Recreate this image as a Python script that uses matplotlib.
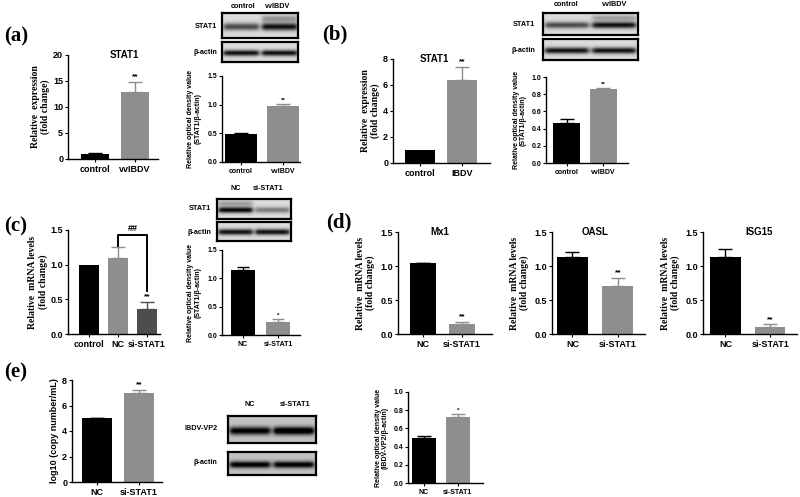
import matplotlib
matplotlib.use("Agg")
import matplotlib.pyplot as plt
import numpy as np

W, H = 800, 497
SANS = "Liberation Sans"
SERIF = "Liberation Serif"
GRAY = "#8e8e8e"
DARK = "#4d4d4d"

# ---- data ----
a_cats = ["control", "vvIBDV"]
a_expr = [1.0, 12.8]
a_expr_err = [0.1, 2.1]
a_dens = [0.48, 0.98]
a_dens_err = [0.03, 0.03]

b_cats = ["control", "IBDV"]
b_expr = [1.0, 6.4]
b_expr_err = [0.0, 1.0]
b_blot_cats = ["control", "vvIBDV"]
b_dens = [0.47, 0.86]
b_dens_err = [0.04, 0.01]

c_cats = ["control", "NC", "si-STAT1"]
c_mrna = [1.0, 1.1, 0.36]
c_mrna_err = [0.0, 0.15, 0.10]
c_blot_cats = ["NC", "si-STAT1"]
c_dens = [1.15, 0.23]
c_dens_err = [0.05, 0.05]

d_genes = ["Mx1", "OASL", "ISG15"]
d_cats = ["NC", "si-STAT1"]
d_nc = [1.04, 1.13, 1.13]
d_nc_err = [0.01, 0.08, 0.12]
d_si = [0.14, 0.71, 0.10]
d_si_err = [0.04, 0.11, 0.04]

e_cats = ["NC", "si-STAT1"]
e_copies = [5.0, 7.0]
e_copies_err = [0.05, 0.25]
e_dens = [0.50, 0.72]
e_dens_err = [0.02, 0.04]

# band strength per lane (main band, faint upper band)
blot_a_stat1 = ([0.60, 0.85], [0.0, 0.30])
blot_b_stat1 = ([0.60, 0.85], [0.0, 0.25])
blot_c_stat1 = ([0.90, 0.40], [0.25, 0.0])
blot_e_vp2 = ([0.85, 0.95], [0.0, 0.0])
blot_actin = ([0.85, 0.85], [0.0, 0.0])


def px_axes(fig, l, t, r, b):
    return fig.add_axes([l / W, 1 - b / H, (r - l) / W, (b - t) / H])


def ftext(fig, x, y, s, **kw):
    fig.text(x / W, 1 - y / H, s, **kw)


def bar_chart(fig, box, cats, vals, errs, colors, ylim, yticks, ylabels, xlim,
              ylabel, serif=True, title=None, title_x=0.55, stars=None, fs=6.5,
              lfs=7, width=0.72, labelpad=2):
    ax = px_axes(fig, *box)
    x = np.arange(len(vals))
    ax.bar(x, vals, width=width, color=colors, edgecolor="none", zorder=2)
    for xi, v, e, c in zip(x, vals, errs, colors):
        if e > 0:
            ax.errorbar(xi, v, yerr=[[0], [e]], color=c, capsize=width * 7,
                        elinewidth=1.0, capthick=1.0, clip_on=False, zorder=1)
    ax.set_xlim(*xlim)
    ax.set_ylim(*ylim)
    ax.set_yticks(yticks)
    ax.set_yticklabels(ylabels, fontsize=fs, fontfamily=SANS, fontweight="bold")
    ax.set_xticks(x)
    ax.set_xticklabels(cats, fontsize=fs, fontfamily=SANS, fontweight="bold")
    ax.tick_params(axis="y", length=2.5, width=0.8, pad=1)
    ax.tick_params(axis="x", length=2, width=0.8, pad=2)
    for side in ("top", "right"):
        ax.spines[side].set_visible(False)
    for side in ("left", "bottom"):
        ax.spines[side].set_linewidth(1.0)
    ax.patch.set_alpha(0)
    family = SERIF if serif else SANS
    ax.set_ylabel(ylabel, fontsize=lfs, fontfamily=family, fontweight="bold",
                  labelpad=labelpad, linespacing=1.1)
    if title:
        ax.text(title_x, 1.0, title, transform=ax.transAxes, ha="center",
                va="center", fontsize=7, fontfamily=SANS, fontweight="bold")
    if stars:
        span = ylim[1] - ylim[0]
        for xi, v, e, s in zip(x, vals, errs, stars):
            if s:
                ax.text(xi, v + e + 0.015 * span, s, ha="center", va="bottom",
                        fontsize=fs - 0.5, fontfamily=SANS, fontweight="bold")
    return ax


def blot(fig, box, bands, bg=0.86, thick=0.15):
    main, upper = bands
    ax = px_axes(fig, *box)
    h, w = 60, 240
    y = np.linspace(0, 1, h)[:, None]
    x = np.linspace(0, 1, w)[None, :]
    n = len(main)
    dark = np.zeros((h, w))
    for i, (s, u) in enumerate(zip(main, upper)):
        cx = (i + 0.5) / n
        hw = 0.5 / n * 0.92
        prof = 1 / (1 + np.exp((np.abs(x - cx) - hw) / 0.015))
        dark += s * np.exp(-((y - 0.55) / thick) ** 2) * prof
        dark += u * np.exp(-((y - 0.22) / (thick * 0.9)) ** 2) * prof
    img = np.clip(bg - dark * 0.95, 0, 1)
    ax.imshow(img, cmap="gray", vmin=0, vmax=1, extent=(0, 1, 1, 0),
              aspect="auto", interpolation="bilinear")
    ax.set_xticks([])
    ax.set_yticks([])
    for sp in ax.spines.values():
        sp.set_linewidth(1.6)
    return ax


fig = plt.figure(figsize=(W / 100, H / 100), dpi=100)
lab = dict(fontsize=15, fontfamily=SERIF, fontweight="bold", va="center", ha="left")
small = dict(fontsize=5.2, fontfamily=SANS, fontweight="bold", va="center")

# ---- (a) ----
ftext(fig, 4, 36, "(a)", **lab)
bar_chart(fig, (68, 55, 158, 159), a_cats, a_expr, a_expr_err, ["black", GRAY],
          (0, 20), [0, 5, 10, 15, 20], ["0", "5", "10", "15", "20"], (-0.68, 1.58),
          "Relative  expression\n(fold change)", title="STAT1", title_x=0.63,
          stars=["", "**"])
blot(fig, (222, 13, 298, 38), blot_a_stat1)
blot(fig, (222, 42, 298, 62), blot_actin)
ftext(fig, 243, 6, "control", ha="center", **small)
ftext(fig, 278, 6, "vvIBDV", ha="center", **small)
ftext(fig, 217, 27, "STAT1", ha="right", **small)
ftext(fig, 217, 52, "β-actin", ha="right", **small)
bar_chart(fig, (222, 76, 300, 162), a_cats, a_dens, a_dens_err, ["black", GRAY],
          (0, 1.5), [0, 0.5, 1.0, 1.5], ["0.0", "0.5", "1.0", "1.5"], (-0.45, 1.4),
          "Relative optical density value\n(STAT1/β-actin)", serif=False,
          stars=["", "**"], fs=5, lfs=5, width=0.76, labelpad=4)

# ---- (b) ----
ftext(fig, 322, 34, "(b)", **lab)
bar_chart(fig, (393, 59, 490, 163), b_cats, b_expr, b_expr_err, ["black", GRAY],
          (0, 8), [0, 2, 4, 6, 8], ["0", "2", "4", "6", "8"], (-0.64, 1.67),
          "Relative  expression\n(fold change)", title="STAT1", title_x=0.43,
          stars=["", "**"])
blot(fig, (543, 13, 638, 35), blot_b_stat1)
blot(fig, (543, 39, 638, 60), blot_actin)
ftext(fig, 566, 5, "control", ha="center", **small)
ftext(fig, 615, 5, "vvIBDV", ha="center", **small)
ftext(fig, 535, 24, "STAT1", ha="right", **small)
ftext(fig, 535, 50, "β-actin", ha="right", **small)
bar_chart(fig, (546, 77, 628, 163), b_blot_cats, b_dens, b_dens_err, ["black", GRAY],
          (0, 1.0), [0, 0.2, 0.4, 0.6, 0.8, 1.0],
          ["0.0", "0.2", "0.4", "0.6", "0.8", "1.0"], (-0.58, 1.69),
          "Relative optical density value\n(STAT1/β-actin)", serif=False,
          stars=["", "**"], fs=5, lfs=5, width=0.75, labelpad=3)

# ---- (c) ----
ftext(fig, 4, 226, "(c)", **lab)
axc = bar_chart(fig, (68, 230, 160, 334), c_cats, c_mrna, c_mrna_err,
                ["black", GRAY, DARK], (0, 1.5), [0, 0.5, 1.0, 1.5],
                ["0.0", "0.5", "1.0", "1.5"], (-0.72, 2.45),
                "Relative  mRNA levels\n(fold change)", stars=["", "", "**"],
                width=0.69)
top = max(v + e for v, e in zip(c_mrna, c_mrna_err)) + 0.18
axc.plot([1, 1, 2, 2], [c_mrna[1] + c_mrna_err[1] + 0.02, top, top,
                        c_mrna[2] + c_mrna_err[2] + 0.16],
         color="black", lw=1.4, clip_on=False)
axc.text(1.5, top + 0.03, "##", ha="center", va="bottom", fontsize=6.5,
         fontfamily=SANS, fontweight="bold")
blot(fig, (217, 199, 291, 219), blot_c_stat1)
blot(fig, (217, 222, 291, 241), blot_actin)
ftext(fig, 236, 189, "NC", ha="center", **small)
ftext(fig, 268, 189, "si-STAT1", ha="center", **small)
ftext(fig, 211, 209, "STAT1", ha="right", **small)
ftext(fig, 211, 232, "β-actin", ha="right", **small)
bar_chart(fig, (222, 250, 300, 335), c_blot_cats, c_dens, c_dens_err, ["black", GRAY],
          (0, 1.5), [0, 0.5, 1.0, 1.5], ["0.0", "0.5", "1.0", "1.5"], (-0.6, 1.63),
          "Relative optical density value\n(STAT1/β-actin)", serif=False,
          stars=["", "*"], fs=5, lfs=5, width=0.66, labelpad=4)

# ---- (d) ----
ftext(fig, 326, 222, "(d)", **lab)
d_boxes = [(398, 232, 492, 334), (552, 232, 645, 334), (703, 232, 797, 334)]
d_xlims = [(-0.64, 1.77), (-0.45, 1.6), (-0.5, 1.6)]
d_title_x = [0.45, 0.46, 0.6]
for gene, box, xl, tx, nc, nce, si, sie in zip(d_genes, d_boxes, d_xlims, d_title_x,
                                               d_nc, d_nc_err, d_si, d_si_err):
    bar_chart(fig, box, d_cats, [nc, si], [nce, sie], ["black", GRAY],
              (0, 1.5), [0, 0.5, 1.0, 1.5], ["0.0", "0.5", "1.0", "1.5"], xl,
              "Relative  mRNA levels\n(fold change)", title=gene, title_x=tx,
              stars=["", "**"], width=0.68, labelpad=4)

# ---- (e) ----
ftext(fig, 4, 372, "(e)", **lab)
bar_chart(fig, (72, 380, 162, 482), e_cats, e_copies, e_copies_err, ["black", GRAY],
          (0, 8), [0, 2, 4, 6, 8], ["0", "2", "4", "6", "8"], (-0.6, 1.55),
          "log10 (copy number/mL)", serif=False, stars=["", "**"], lfs=6.5)
blot(fig, (228, 416, 316, 443), blot_e_vp2, bg=0.76)
blot(fig, (228, 452, 316, 475), blot_actin, bg=0.76)
ftext(fig, 250, 405, "NC", ha="center", **small)
ftext(fig, 295, 405, "si-STAT1", ha="center", **small)
ftext(fig, 218, 429, "IBDV-VP2", ha="right", **small)
ftext(fig, 217, 463, "β-actin", ha="right", **small)
bar_chart(fig, (408, 392, 483, 483), e_cats, e_dens, e_dens_err, ["black", GRAY],
          (0, 1.0), [0, 0.2, 0.4, 0.6, 0.8, 1.0],
          ["0.0", "0.2", "0.4", "0.6", "0.8", "1.0"], (-0.47, 1.74),
          "Relative optical density value\n(IBDV-VP2/β-actin)", serif=False,
          stars=["", "*"], fs=5, lfs=5, width=0.7, labelpad=3)

fig.savefig("out.png", dpi=100)
